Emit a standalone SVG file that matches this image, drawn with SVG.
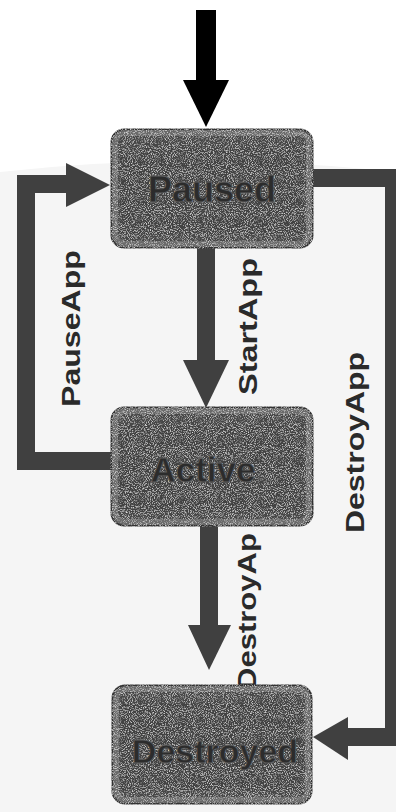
<svg xmlns="http://www.w3.org/2000/svg" width="396" height="812" viewBox="0 0 396 812">
  <defs>
    <style>
      .conn { fill: none; stroke: #404040; stroke-width: 18; stroke-linejoin: miter; stroke-linecap: butt; }
      .head { fill: #404040; }
      .box { fill: #464646; stroke: #333333; stroke-width: 3; }
      .rim { fill: none; stroke: #7a7a7a; stroke-width: 6; opacity: 0.7; }
      .panel { fill: #434343; }
      .ntext { font-family: "Liberation Sans", Arial, sans-serif; font-weight: bold; fill: #2c2c2c; stroke: #5e5e5e; stroke-width: 0.8; text-anchor: middle; }
      .lbl { font-family: "Liberation Sans", Arial, sans-serif; font-weight: bold; font-size: 26px; fill: #2a2a2a; text-anchor: middle; }
    </style>
    <filter id="grain" x="-5%" y="-5%" width="110%" height="110%">
      <feTurbulence type="fractalNoise" baseFrequency="0.95" numOctaves="2" seed="7" result="n"/>
      <feColorMatrix in="n" type="matrix" values="0 0 0 0 0.78  0 0 0 0 0.78  0 0 0 0 0.78  2.4 0 0 0 -1.15" result="speck"/>
      <feComposite in="speck" in2="SourceGraphic" operator="in" result="sp"/>
      <feMerge><feMergeNode in="SourceGraphic"/><feMergeNode in="sp"/></feMerge>
    </filter>
  </defs>

  <rect x="0" y="0" width="396" height="812" fill="#ffffff"/>
  <path d="M0,172 Q198,150 396,172 L396,812 L0,812 Z" fill="#f5f5f5"/>

  <g id="connectors">
    <!-- initial arrow -->
    <rect x="196" y="10" width="20" height="72" fill="#000000"/>
    <polygon points="183,80 229,80 206,127" fill="#000000"/>
    <!-- PauseApp: Active -> Paused -->
    <polyline class="conn" points="112,461 26,461 26,184 68,184"/>
    <polygon class="head" points="66,163 66,207 110,185"/>
    <!-- StartApp: Paused -> Active -->
    <rect x="197" y="246" width="18" height="116" fill="#404040"/>
    <polygon class="head" points="183,360 229,360 206,408"/>
    <!-- DestroyAp: Active -> Destroyed -->
    <rect x="200" y="524" width="18" height="103" fill="#404040"/>
    <polygon class="head" points="188,625 231,625 209,670"/>
    <!-- DestroyApp: Paused -> Destroyed -->
    <polyline class="conn" points="310,178 394,178 394,737 346,737"/>
    <polygon class="head" points="348,717 348,760 313,737"/>
  </g>

  <g id="labels">
    <text class="lbl" transform="translate(80,328.5) rotate(-90)" textLength="157" lengthAdjust="spacingAndGlyphs">PauseApp</text>
    <text class="lbl" transform="translate(257,326.5) rotate(-90)" textLength="137" lengthAdjust="spacingAndGlyphs">StartApp</text>
    <text class="lbl" transform="translate(364,442.5) rotate(-90)" textLength="181" lengthAdjust="spacingAndGlyphs">DestroyApp</text>
    <text class="lbl" transform="translate(256,611.5) rotate(-90)" textLength="157" lengthAdjust="spacingAndGlyphs">DestroyAp</text>
  </g>

  <g id="node-paused">
    <g filter="url(#grain)">
      <rect class="box" x="112" y="130" width="200" height="117" rx="12"/>
      <rect class="panel" x="120" y="148" width="184" height="86" rx="4"/>
      <rect class="rim" x="115" y="133" width="194" height="111" rx="10"/>
    </g>
    <text class="ntext" x="212" y="202" font-size="36">Paused</text>
  </g>

  <g id="node-active">
    <g filter="url(#grain)">
      <rect class="box" x="112" y="408" width="200" height="117" rx="12"/>
      <rect class="panel" x="120" y="426" width="184" height="86" rx="4"/>
      <rect class="rim" x="115" y="411" width="194" height="111" rx="10"/>
    </g>
    <text class="ntext" x="203" y="482" font-size="35">Active</text>
  </g>

  <g id="node-destroyed">
    <g filter="url(#grain)">
      <rect class="box" x="113" y="686" width="198" height="117" rx="12"/>
      <rect class="panel" x="121" y="704" width="182" height="86" rx="4"/>
      <rect class="rim" x="116" y="689" width="192" height="111" rx="10"/>
    </g>
    <text class="ntext" x="215" y="763" font-size="34">Destroyed</text>
  </g>
</svg>
